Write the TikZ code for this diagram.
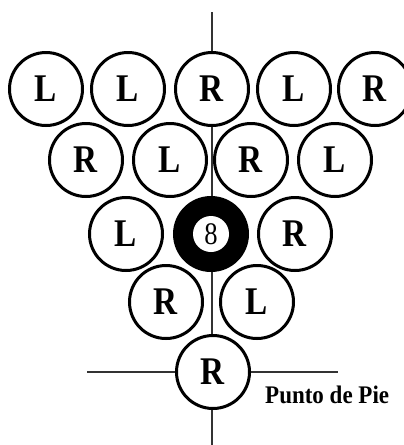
\documentclass[tikz,border=0pt]{standalone}
\usepackage{fontspec}
\setmainfont{Liberation Serif}
\newcommand{\tallt}[1]{\scalebox{0.95}[1.12]{#1}}
\begin{document}
\begin{tikzpicture}[x=1pt,y=-1pt,
  ball/.style={circle,draw=black,line width=3pt,fill=white,minimum size=73pt,inner sep=0pt,
    font=\fontsize{35}{35}\selectfont\bfseries},
  guide/.style={draw=black!80,line width=1.4pt},
  eightring/.style={circle,draw=black,fill=black,line width=3pt,minimum size=73pt,inner sep=0pt},
  eightcore/.style={circle,fill=white,minimum size=36pt,inner sep=0pt,font=\fontsize{28}{28}\selectfont}]
\useasboundingbox (0,0) rectangle (404,445);
\coordinate (vtop) at (212,12);
\coordinate (vbot) at (212,445);
\coordinate (hl) at (87,372);
\coordinate (hr) at (338,372);
\draw[guide] (vtop) -- (vbot);
\draw[guide] (hl) -- (hr);
% row 1
\node[ball] (a1) at (46,89) {\tallt{L}};
\node[ball] (a2) at (128,89) {\tallt{L}};
\node[ball] (a3) at (212,89) {\tallt{R}};
\node[ball] (a4) at (294,89) {\tallt{L}};
\node[ball] (a5) at (375,89) {\tallt{R}};
% row 2
\node[ball] (b1) at (86,160) {\tallt{R}};
\node[ball] (b2) at (170,160) {\tallt{L}};
\node[ball] (b3) at (251,160) {\tallt{R}};
\node[ball] (b4) at (335,160) {\tallt{L}};
% row 3
\node[ball] (c1) at (126,234) {\tallt{L}};
\node[eightring] (c2) at (211,234) {};
\node[eightcore] (c2i) at (c2) {\tallt{8}};
\node[ball] (c3) at (295,234) {\tallt{R}};
% row 4
\node[ball] (d1) at (166,302) {\tallt{R}};
\node[ball] (d2) at (257,302) {\tallt{L}};
% row 5
\node[ball] (e1) at (213,372) {\tallt{R}};
\node[anchor=base west,inner sep=0pt,font=\fontsize{23}{23}\selectfont\bfseries] (lbl) at (265,403) {\scalebox{1}[1.1]{Punto de Pie}};
\end{tikzpicture}
\end{document}
